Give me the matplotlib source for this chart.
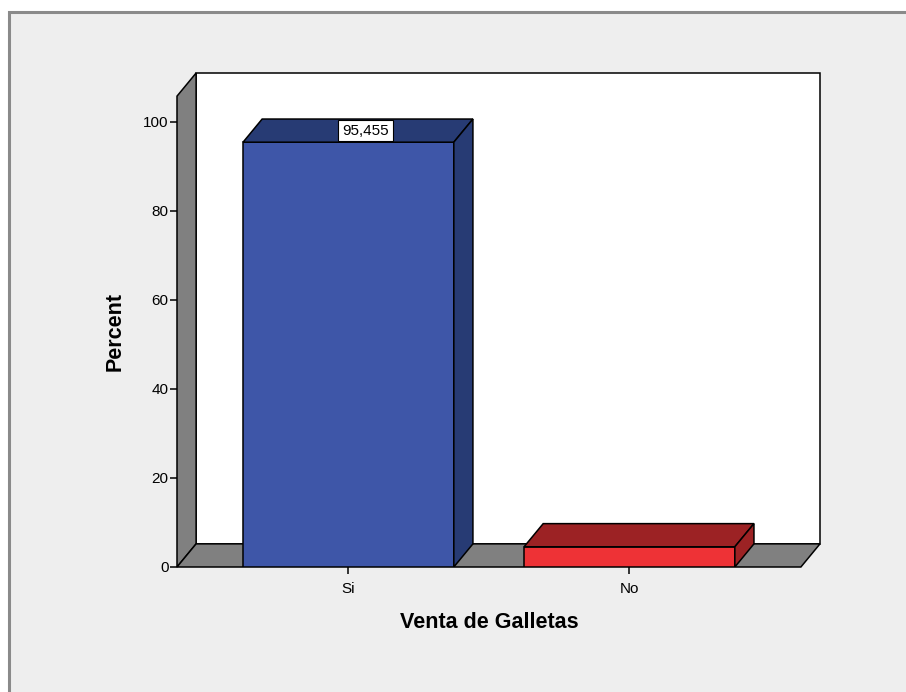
import numpy as np
import matplotlib.pyplot as plt
from matplotlib.patches import Polygon, Rectangle

plt.rcParams['font.family'] = ['Liberation Sans', 'DejaVu Sans']

categories = ['Si', 'No']
percent = [95.455, 4.545]
labels = ['95,455', None]
yticks = [0, 20, 40, 60, 80, 100]

front_colors = ['#3e56a8', '#ee3236']
dark_colors = ['#273b74', '#9c2224']

# depth of the fake 3d effect, in data units
dx = 0.068
dy = 5.2
bar_w = 0.75
xmin, xmax = -0.61, 1.678
ymax = 111

fig = plt.figure(figsize=(9.06, 6.92), dpi=100)
fig.patch.set_facecolor('white')
# outer gray panel
fig.patches.append(Rectangle((9 / 906, -0.1), 1.0, 1 - 12 / 692 + 0.1, transform=fig.transFigure,
                             facecolor='#eeeeee', edgecolor='#8a8a8a', lw=2.2, zorder=-10))

ax = fig.add_axes([177 / 906, 1 - 567 / 692, (820 - 177) / 906, (567 - 73) / 692])
ax.set_zorder(5)
ax.set_facecolor('none')
ax.set_xlim(xmin, xmax)
ax.set_ylim(0, ymax)
for s in ax.spines.values():
    s.set_visible(False)

ec = dict(edgecolor='black', lw=1.1, joinstyle='miter')

# back wall
ax.add_patch(Polygon([(xmin + dx, dy), (xmax, dy), (xmax, ymax), (xmin + dx, ymax)],
                     closed=True, facecolor='white', zorder=1, clip_on=False, **ec))
# left wall
ax.add_patch(Polygon([(xmin, 0), (xmin + dx, dy), (xmin + dx, ymax), (xmin, ymax - dy)],
                     closed=True, facecolor='#808080', zorder=2, clip_on=False, **ec))
# floor
ax.add_patch(Polygon([(xmin, 0), (xmax - dx, 0), (xmax, dy), (xmin + dx, dy)],
                     closed=True, facecolor='#808080', zorder=2, clip_on=False, **ec))

for i, (v, fc, dc) in enumerate(zip(percent, front_colors, dark_colors)):
    x0 = i - bar_w / 2
    x1 = i + bar_w / 2
    ax.add_patch(Polygon([(x0, 0), (x1, 0), (x1, v), (x0, v)], closed=True,
                         facecolor=fc, zorder=4, **ec))
    ax.add_patch(Polygon([(x0, v), (x1, v), (x1 + dx, v + dy), (x0 + dx, v + dy)], closed=True,
                         facecolor=dc, zorder=4, **ec))
    ax.add_patch(Polygon([(x1, 0), (x1 + dx, dy), (x1 + dx, v + dy), (x1, v)], closed=True,
                         facecolor=dc, zorder=4, **ec))
    if labels[i]:
        ax.text(i + dx * 0.9, v + dy / 2, labels[i], ha='center', va='center', fontsize=11,
                zorder=6, bbox=dict(boxstyle='square,pad=0.25', facecolor='white',
                                    edgecolor='black', lw=0.8))

ax.set_yticks(yticks)
ax.set_xticks(range(len(categories)))
ax.set_xticklabels(categories)
ax.tick_params(axis='both', direction='out', length=5, width=1.1, labelsize=11, colors='black')
ax.tick_params(axis='x', pad=6)
ax.tick_params(axis='y', pad=1)

ax.set_xlabel('Venta de Galletas', fontsize=15.5, fontweight='bold', va='center')
ax.set_ylabel('Percent', fontsize=15.5, fontweight='bold', va='center')
# center the titles on the front face, not the whole box
ax.xaxis.set_label_coords(0.486, -0.113)
ax.yaxis.set_label_coords(-0.096, 0.476)

fig.savefig('out.png', dpi=100)
